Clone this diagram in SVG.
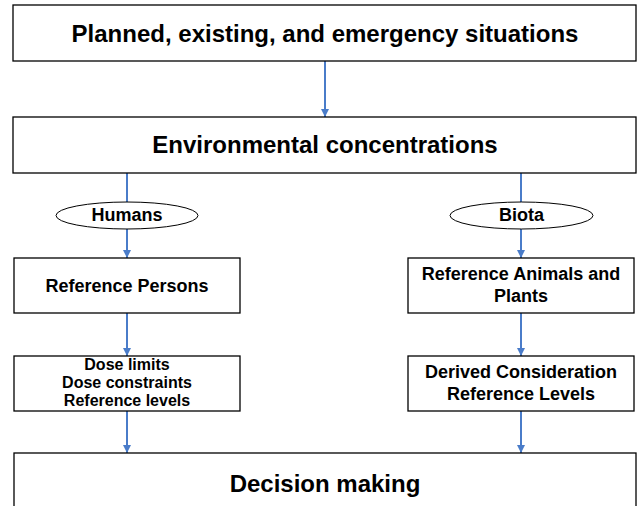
<svg xmlns="http://www.w3.org/2000/svg" width="640" height="506" viewBox="0 0 640 506">
  <defs>
    <marker id="arrow" viewBox="0 0 10 10" refX="10" refY="5" markerWidth="8" markerHeight="9" markerUnits="userSpaceOnUse" orient="auto">
      <path d="M0,0 L10,5 L0,10 z" fill="#4a7cc9"/>
    </marker>
    <style>
      .box { fill: #ffffff; stroke: #000000; stroke-width: 1.3; }
      .oval { fill: #ffffff; stroke: #000000; stroke-width: 1; }
      .link { stroke: #4a7cc9; stroke-width: 2; fill: none; marker-end: url(#arrow); }
      text { font-family: "Liberation Sans", Arial, sans-serif; font-weight: bold; fill: #000000; text-anchor: middle; }
      .big { font-size: 24px; }
      .small { font-size: 18px; }
      .tight { font-size: 16px; }
    </style>
  </defs>

  <!-- connectors -->
  <g id="connectors">
    <line class="link" x1="325" y1="61" x2="325" y2="117"/>
    <line class="link" x1="127" y1="173" x2="127" y2="258"/>
    <line class="link" x1="521" y1="173" x2="521" y2="258"/>
    <line class="link" x1="127" y1="313" x2="127" y2="356"/>
    <line class="link" x1="521" y1="313" x2="521" y2="356"/>
    <line class="link" x1="127" y1="411" x2="127" y2="453"/>
    <line class="link" x1="521" y1="411" x2="521" y2="453"/>
  </g>

  <g id="situations">
    <rect class="box" x="13" y="5" width="623" height="56"/>
    <text class="big" x="325" y="42">Planned, existing, and emergency situations</text>
  </g>

  <g id="concentrations">
    <rect class="box" x="13" y="117" width="623" height="56"/>
    <text class="big" x="325" y="153">Environmental concentrations</text>
  </g>

  <g id="humans">
    <ellipse class="oval" cx="127" cy="215.5" rx="71" ry="13.5"/>
    <text class="small" x="127" y="221">Humans</text>
  </g>

  <g id="biota">
    <ellipse class="oval" cx="521.5" cy="215.5" rx="71.5" ry="13.5"/>
    <text class="small" x="521.5" y="221">Biota</text>
  </g>

  <g id="reference-persons">
    <rect class="box" x="14" y="258" width="226" height="55"/>
    <text class="small" x="127" y="292">Reference Persons</text>
  </g>

  <g id="reference-animals-plants">
    <rect class="box" x="408" y="258" width="226" height="55"/>
    <text class="small" x="521" y="280">Reference Animals and</text>
    <text class="small" x="521" y="302">Plants</text>
  </g>

  <g id="dose-limits">
    <rect class="box" x="14" y="356" width="226" height="55"/>
    <text class="tight" x="127" y="370">Dose limits</text>
    <text class="tight" x="127" y="388">Dose constraints</text>
    <text class="tight" x="127" y="406">Reference levels</text>
  </g>

  <g id="derived-levels">
    <rect class="box" x="408" y="356" width="226" height="55"/>
    <text class="small" x="521" y="378">Derived Consideration</text>
    <text class="small" x="521" y="400">Reference Levels</text>
  </g>

  <g id="decision">
    <rect class="box" x="14" y="453" width="622" height="60"/>
    <text class="big" x="325" y="492">Decision making</text>
  </g>
</svg>
